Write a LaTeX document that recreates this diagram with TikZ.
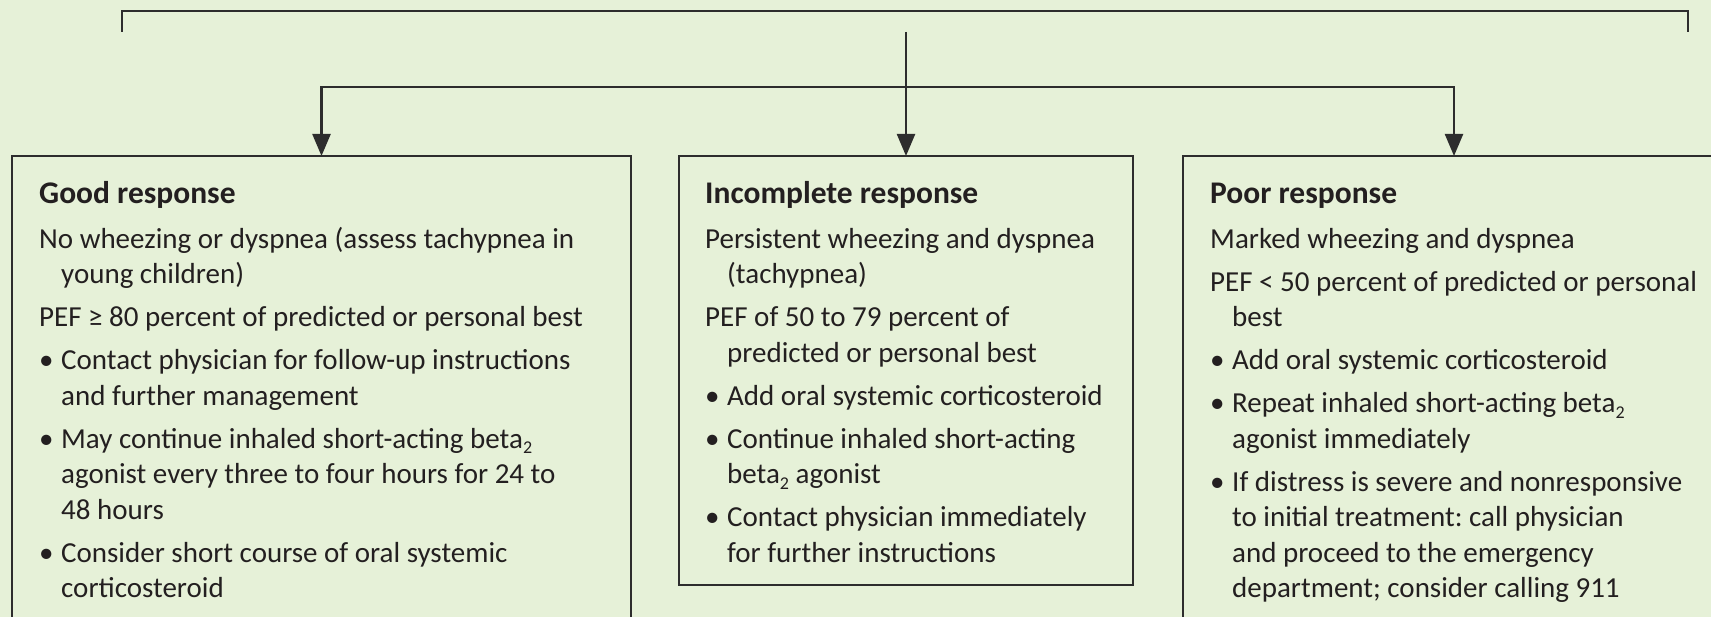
\documentclass[tikz,border=0pt]{standalone}
\usepackage{fontspec}
\setmainfont{Carlito}
\usetikzlibrary{arrows.meta}
\definecolor{bg}{RGB}{230,241,216}
\definecolor{ink}{RGB}{35,31,32}
\definecolor{rule}{RGB}{45,45,45}
\frenchspacing
% subscript two for beta_2
\newcommand{\btwo}{\raisebox{-0.2em}{\fontsize{18}{18}\selectfont 2}}
% bullet with hanging indent, and plain hanging indent
\newcommand{\bul}{\makebox[22pt][l]{\textbullet}}
\newcommand{\ind}{\hspace*{22pt}}
% box heading
\newcommand{\boxhead}[1]{{\fontsize{31.5}{35.5}\selectfont\bfseries #1}}
\begin{document}
\begin{tikzpicture}[x=1pt, y=-1pt,
  line/.style={draw=rule, line width=2.3pt},
  arr/.style={line, -{Triangle[length=22pt,width=18pt]}},
  box/.style={draw=rule, line width=2.3pt, rectangle, inner sep=0pt, outer sep=0pt, anchor=north west},
  txt/.style={anchor=base west, inner sep=0pt, align=left, text=ink,
              font=\fontsize{29}{35.5}\selectfont}]
\useasboundingbox (0,0) rectangle (1711,617);
\clip (0,0) rectangle (1711,617);
\fill[bg] (0,0) rectangle (1711,617);

% three outcome boxes
\node[box, minimum width=619pt, minimum height=500pt] (good) at (12,156) {};
\node[box, minimum width=454pt, minimum height=429pt] (mid) at (679,156) {};
\node[box, minimum width=542pt, minimum height=500pt] (poor) at (1183,156) {};

% bracket from the step above
\coordinate (bl) at (122,32);
\coordinate (br) at (1688,32);
\draw[line] (bl) -- ++(0,-21) -| (br);

% branching arrows
\coordinate (src) at (906,32);
\coordinate (split) at (906,87);
\draw[arr] (src) -- (mid.north);
\draw[arr] (split) -| (good.north);
\draw[arr] (split) -| (poor.north);

% box texts (each node is placed by the baseline of its last line)
\node[txt] (goodtxt) at (39,597.5) {%
\boxhead{Good response}\\[9.5pt]
No wheezing or dyspnea (assess tachypnea in\\
\ind young children)\\[7.5pt]
PEF ≥ 80 percent of predicted or personal best\\[7.5pt]
\bul Contact physician for follow-up instructions\\
\ind and further management\\[7.5pt]
\bul May continue inhaled short-acting beta\btwo\\
\ind agonist every three to four hours for 24 to\\
\ind 48 hours\\[7.5pt]
\bul Consider short course of oral systemic\\
\ind corticosteroid};

\node[txt] (midtxt) at (705,562) {%
\boxhead{Incomplete response}\\[9.5pt]
Persistent wheezing and dyspnea\\
\ind (tachypnea)\\[7.5pt]
PEF of 50 to 79 percent of\\
\ind predicted or personal best\\[7.5pt]
\bul Add oral systemic corticosteroid\\[7.5pt]
\bul Continue inhaled short-acting\\
\ind beta\btwo{} agonist\\[7.5pt]
\bul Contact physician immediately\\
\ind for further instructions};

\node[txt] (poortxt) at (1210,597.5) {%
\boxhead{Poor response}\\[9.5pt]
Marked wheezing and dyspnea\\[7.5pt]
PEF < 50 percent of predicted or personal\\
\ind best\\[7.5pt]
\bul Add oral systemic corticosteroid\\[7.5pt]
\bul Repeat inhaled short-acting beta\btwo\\
\ind agonist immediately\\[7.5pt]
\bul If distress is severe and nonresponsive\\
\ind to initial treatment: call physician\\
\ind and proceed to the emergency\\
\ind department; consider calling 911};
\end{tikzpicture}
\end{document}
